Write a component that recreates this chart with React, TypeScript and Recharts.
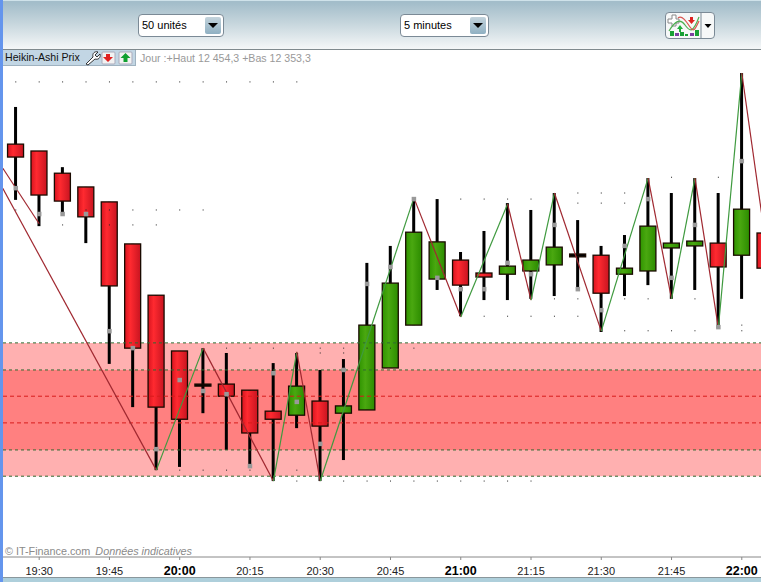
import React from "react"
import { ComposedChart, XAxis, YAxis, Bar, Line, Scatter, ReferenceArea, ReferenceLine } from "recharts"

const times = [
    "19:25", "19:30", "19:35", "19:40", "19:45", "19:50", "19:55", "20:00", "20:05", "20:10", "20:15",
    "20:20", "20:25", "20:30", "20:35", "20:40", "20:45", "20:50", "20:55", "21:00", "21:05", "21:10",
    "21:15", "21:20", "21:25", "21:30", "21:35", "21:40", "21:45", "21:50", "21:55", "22:00", "22:05",
]
const highs = [
    12445.9, 12435.0, 12431.0, 12426.1, 12422.4, 12412.0, 12399.3, 12385.5, 12386.2, 12385.0, 12375.8,
    12382.5, 12385.0, 12380.8, 12383.5, 12407.3, 12411.5, 12423.1, 12423.1, 12410.0, 12415.2, 12422.1,
    12420.4, 12424.6, 12417.9, 12411.5, 12414.2, 12428.3, 12424.6, 12428.3, 12424.6, 12454.3, 12418.0,
]
const lows = [
    12422.9, 12416.4, 12419.6, 12412.2, 12382.3, 12371.6, 12356.0, 12356.8, 12370.1, 12361.0, 12357.0,
    12353.3, 12366.4, 12353.3, 12358.5, 12370.9, 12381.3, 12391.9, 12400.6, 12394.1, 12398.1, 12398.1,
    12398.4, 12399.1, 12400.8, 12390.2, 12399.1, 12401.8, 12398.4, 12400.6, 12391.2, 12398.4, 12400.0,
]
const opens = [
    12436.7, 12435.0, 12429.5, 12426.1, 12422.4, 12412.0, 12399.3, 12385.5, 12377.3, 12377.3, 12375.8,
    12370.6, 12369.6, 12373.1, 12370.1, 12370.9, 12381.3, 12391.9, 12403.3, 12408.0, 12404.8, 12404.5,
    12405.3, 12406.8, 12408.8, 12409.2, 12404.5, 12405.3, 12411.0, 12411.5, 12412.2, 12409.2, 12414.7,
]
const closes = [
    12433.5, 12424.1, 12422.6, 12418.7, 12401.6, 12386.2, 12371.6, 12368.6, 12376.8, 12374.3, 12365.2,
    12368.6, 12376.8, 12366.9, 12371.9, 12391.9, 12402.3, 12414.9, 12412.5, 12401.8, 12403.8, 12406.5,
    12408.0, 12411.2, 12409.5, 12399.8, 12406.0, 12416.4, 12412.2, 12412.7, 12406.3, 12420.6, 12406.0,
]
const markers = [
    12425.8, 12419.4, 12419.4, 12419.4, 12390.4, 12386.2, 12361.2, 12378.3, 12375.6, 12374.8, 12357.0,
    12380.0, 12372.9, 12362.5, 12380.8, 12402.1, 12406.3, 12423.1, 12403.6, 12400.8, 12400.8, 12407.3,
    12404.5, 12416.7, 12400.8, 12395.6, 12411.5, 12423.1, 12403.6, 12416.7, 12391.4, 12432.5,
]

// zigzag pivots, candle index and price
const pivotIndex = [-1, 6, 8, 11, 12, 13, 17, 19, 21, 22, 23, 25, 27, 28, 29, 30, 31, 32]
const pivotPrice = [
    12430.5, 12356.0, 12386.2, 12353.3, 12385.3, 12353.3, 12423.4, 12393.9, 12421.9,
    12398.1, 12424.6, 12390.4, 12428.3, 12398.4, 12428.3, 12391.2, 12454.3, 12413.2,
]
const upperIndex = [-1, 1]
const upperPrice = [12434.7, 12417.0]

const tickLabels = ["19:30", "19:45", "20:00", "20:15", "20:30", "20:45", "21:00", "21:15", "21:30", "21:45", "22:00"]

const outerBand = [12354.5, 12387.5]
const innerBand = [12361.0, 12380.8]
const redLevels = [12374.3, 12367.7]

// tiny dots, one row per price
const dotPrices = [
    12452.1, 12420.4, 12416.7, 12386.2, 12385.0, 12356.0, 12353.3, 12423.1, 12394.1,
    12398.4, 12424.6, 12422.1, 12390.5, 12428.5, 12391.9,
]
const dotIndexes = [
    [0, 1, 2, 3, 4, 5, 6, 7, 8, 9, 10, 11, 12],
    [0, 3, 4, 5, 6, 7, 8],
    [2, 4, 5, 6],
    [9, 10, 11, 13, 14, 15, 16, 17],
    [13, 14],
    [7, 8, 9, 10, 12],
    [12, 14, 15, 16, 17, 18, 19, 20, 21, 22],
    [19, 20, 21, 22],
    [20, 21, 22, 23, 24],
    [23, 24, 25, 26, 27, 29],
    [24, 25, 26],
    [24, 25, 26],
    [26, 27, 28, 29, 31],
    [28, 30],
    [31],
]

const candles = times.map((time, i) => ({ i, time, high: highs[i], low: lows[i], open: opens[i], close: closes[i] }))
const markerPoints = markers.map((v, i) => ({ i, v }))
const dotPoints = dotPrices.flatMap((v, r) => dotIndexes[r].map(i => ({ i, v })))
const tickIndexes = tickLabels.map(label => times.indexOf(label))

const zigzag = pivotIndex.slice(1).map((idx, n) => ({
    up: pivotPrice[n + 1] > pivotPrice[n],
    data: [{ i: pivotIndex[n], v: pivotPrice[n] }, { i: idx, v: pivotPrice[n + 1] }],
}))
const upperSegment = upperIndex.map((i, n) => ({ i, v: upperPrice[n] }))

function Candle(props: any) {
    const { x, y, width, height, payload } = props
    const perPoint = height / (payload.high - payload.low)
    const top = y + (payload.high - Math.max(payload.open, payload.close)) * perPoint
    const bodyHeight = Math.abs(payload.open - payload.close) * perPoint
    const rising = payload.close > payload.open
    const doji = bodyHeight < 3
    return (
        <g>
            <rect x={x + width / 2 - 1.5} y={y} width={3} height={height} fill="#000" />
            <rect
                x={x + 0.5}
                y={top}
                width={width - 1}
                height={bodyHeight}
                fill={doji ? "#000" : rising ? "url(#candleGreen)" : "url(#candleRed)"}
                stroke="#1a0a00"
                strokeWidth={1.3}
            />
        </g>
    )
}

function TimeTick({ x, y, payload }: any) {
    const label = times[payload.value]
    const bold = label.endsWith(":00")
    return (
        <text
            x={x}
            y={y + 13}
            textAnchor="middle"
            fontFamily="Liberation Sans"
            fontSize={bold ? 12.5 : 11}
            fontWeight={bold ? 700 : 400}
            fill={bold ? "#000" : "#222"}
        >
            {label}
        </text>
    )
}

const GrayMark = ({ cx, cy }: any) => <rect x={cx - 2.25} y={cy - 2.25} width={4.5} height={4.5} fill="#999" />
const TinyDot = ({ cx, cy }: any) => <rect x={cx - 0.5} y={cy - 0.5} width={1} height={1} fill="#222" />

function Select({ left, width, label }: { left: number; width: number; label: string }) {
    return (
        <div style={{
            position: "absolute", left, top: 14, width, height: 21, background: "#fff", border: "1px solid #7b8a96",
            borderRadius: 4, fontSize: 11, lineHeight: "21px", paddingLeft: 3, boxSizing: "content-box",
        }}>
            {label}
            <div style={{
                position: "absolute", right: 2, top: 2, width: 16, height: 17, borderRadius: 2,
                background: "linear-gradient(#c3d3dc, #8fb0c2)",
            }}>
                <div style={{
                    position: "absolute", left: 3, top: 6, width: 0, height: 0,
                    borderLeft: "5px solid transparent", borderRight: "5px solid transparent", borderTop: "5px solid #000",
                }} />
            </div>
        </div>
    )
}

function Toolbar() {
    return (
        <>
            <div style={{
                position: "absolute", left: 0, top: 0, width: 761, height: 50,
                borderTop: "1px solid #cfe2ea", boxSizing: "border-box",
                background: "linear-gradient(#a3bdca 4%, #c5d5dc 45%, #f5f7f8 100%)", borderBottom: "1px solid #808a8e",
            }} />
            <Select left={138} width={81} label="50 unités" />
            <Select left={400} width={84} label="5 minutes" />
            <div style={{
                position: "absolute", left: 665, top: 12, width: 48, height: 25, border: "1px solid #7b8a96",
                borderRadius: 4, background: "#f6f8f8",
            }}>
                <svg width={48} height={25} style={{ position: "absolute", left: 0, top: 0 }}>
                    <path d="M2 6 H6 V2 H10 V6 H13 V10 H10 V13 H6 V10 H2 Z" fill="#fff" stroke="#888" />
                    <path d="M3 18 C9 8, 14 5, 19 12 S27 20, 33 4" fill="none" stroke="#4caf50" strokeWidth={1.2} />
                    <path d="M12 5 C16 2, 20 8, 24 14 S29 16, 33 8" fill="none" stroke="#d9534f" strokeWidth={1.2} />
                    <path d="M11 16 l3 -4 l3 4 h-2 v3 h-2 v-3 z" fill="#1fae3a" />
                    <path d="M24 4 h3 v3 h2 l-3.5 4 l-3.5 -4 h2 z" fill="#d22" />
                    <rect x={4} y={18} width={4} height={5} fill="#18a035" />
                    <rect x={9} y={20} width={4} height={3} fill="#7b3fa0" />
                    <rect x={14} y={19} width={4} height={4} fill="#18a035" />
                    <rect x={19} y={21} width={3} height={2} fill="#18a035" />
                    <rect x={24} y={20} width={4} height={3} fill="#7b3fa0" />
                    <rect x={29} y={17} width={4} height={6} fill="#18a035" />
                    <line x1={35} y1={0} x2={35} y2={25} stroke="#7b8a96" />
                    <path d="M38.5 11 h7 l-3.5 4 z" fill="#000" />
                </svg>
            </div>
        </>
    )
}

function LegendBar() {
    return (
        <>
            <div style={{
                position: "absolute", left: 3, top: 50, width: 133, height: 16, background: "#c2d6e4",
                borderRight: "1px solid #9fb2c0", borderBottom: "1px solid #9fb2c0", boxSizing: "border-box",
                fontSize: 10.6, lineHeight: "15px", paddingLeft: 2, color: "#111", whiteSpace: "nowrap",
            }}>
                Heikin-Ashi Prix
            </div>
            <svg width={50} height={16} style={{ position: "absolute", left: 84, top: 50 }}>
                <path d="M2 14 L9 7 C8 3 11 1 14 2 L11 5 L13 7 L16 4 C17 8 14 10 11 9 L4 15 Z" fill="#fff" stroke="#222" strokeWidth={0.9} />
                <rect x={18} y={2} width={13} height={12} rx={1} fill="#f2f2f2" stroke="#aab" />
                <path d="M22 4 h4 v3 h3 l-5 5 l-5 -5 h3 z" fill="#e02020" />
                <rect x={35} y={2} width={13} height={12} rx={1} fill="#f2f2f2" stroke="#aab" />
                <path d="M41.5 3 l5 5 h-3 v4 h-4 v-4 h-3 z" fill="#10a030" />
            </svg>
            <div style={{ position: "absolute", left: 140, top: 51, fontSize: 10.6, lineHeight: "14px", color: "#999", whiteSpace: "nowrap" }}>
                Jour :+Haut 12 454,3 +Bas 12 353,3
            </div>
            <div style={{ position: "absolute", left: 5, top: 544, fontSize: 10.8, lineHeight: "14px", color: "#8a8a8a", whiteSpace: "nowrap" }}>
                © IT-Finance.com <i style={{ marginLeft: 2 }}>Données indicatives</i>
            </div>
        </>
    )
}

export default function App() {
    return (
        <div style={{
            position: "absolute", left: 0, top: 0, width: 761, height: 582, overflow: "hidden",
            background: "#fff", fontFamily: "Liberation Sans",
        }}>
            <Toolbar />
            <div style={{ position: "absolute", left: 3, top: 50 }}>
                <ComposedChart
                    width={758}
                    height={527}
                    data={candles}
                    margin={{ top: 0, right: 0, bottom: 0, left: 0 }}
                >
                    <defs>
                        <linearGradient id="candleRed" x1="0" y1="0" x2="1" y2="0">
                            <stop offset="0%" stopColor="#d8141f" />
                            <stop offset="35%" stopColor="#ff2a30" />
                            <stop offset="100%" stopColor="#c81420" />
                        </linearGradient>
                        <linearGradient id="candleGreen" x1="0" y1="0" x2="1" y2="0">
                            <stop offset="0%" stopColor="#2f9400" />
                            <stop offset="40%" stopColor="#4aa810" />
                            <stop offset="100%" stopColor="#2c8c00" />
                        </linearGradient>
                    </defs>
                    <XAxis
                        dataKey="i"
                        type="number"
                        domain={[-0.545, 31.82]}
                        allowDataOverflow
                        ticks={tickIndexes}
                        interval={0}
                        height={20}
                        stroke="#888"
                        tickSize={3}
                        tick={<TimeTick />}
                    />
                    <YAxis hide type="number" domain={[12334.5, 12460]} allowDataOverflow />
                    <ReferenceArea y1={outerBand[0]} y2={outerBand[1]} fill="#ffb0b0" fillOpacity={1} stroke="none" />
                    <ReferenceArea y1={innerBand[0]} y2={innerBand[1]} fill="#ff8080" fillOpacity={1} stroke="none" />
                    {[...outerBand, ...innerBand].map(v => (
                        <ReferenceLine key={v} y={v} stroke="#2f6a30" strokeDasharray="3 3" />
                    ))}
                    {redLevels.map(v => (
                        <ReferenceLine key={v} y={v} stroke="#d81c1c" strokeDasharray="4 3" />
                    ))}
                    <Bar
                        dataKey={(d: any) => [d.low, d.high]}
                        barSize={17}
                        shape={<Candle />}
                        isAnimationActive={false}
                    />
                    <Line
                        data={upperSegment}
                        dataKey="v"
                        stroke="#a02830"
                        strokeWidth={1.2}
                        dot={false}
                        isAnimationActive={false}
                    />
                    {zigzag.map((seg, n) => (
                        <Line
                            key={n}
                            data={seg.data}
                            dataKey="v"
                            stroke={seg.up ? "#3f9a3f" : "#a02830"}
                            strokeWidth={1.2}
                            dot={false}
                            isAnimationActive={false}
                        />
                    ))}
                    <Scatter data={dotPoints} dataKey="v" shape={<TinyDot />} isAnimationActive={false} />
                    <Scatter data={markerPoints} dataKey="v" shape={<GrayMark />} isAnimationActive={false} />
                </ComposedChart>
            </div>
            <LegendBar />
            <div style={{ position: "absolute", left: 0, top: 0, width: 3, height: 582, background: "#6495ed" }} />
            <div style={{
                position: "absolute", left: 3, top: 577, width: 758, height: 5, background: "#aecfdb",
                borderTop: "1px solid #8a979c", boxSizing: "border-box",
            }} />
        </div>
    )
}
